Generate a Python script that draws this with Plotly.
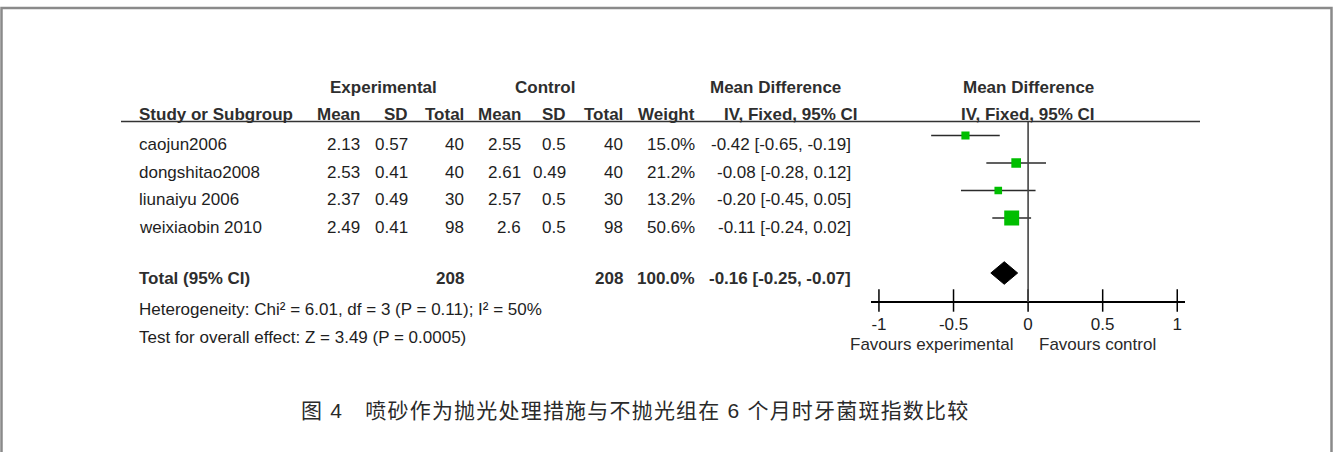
import numpy as np
import plotly.graph_objects as go

# ---- study data -------------------------------------------------------------
studies = ["caojun2006", "dongshitao2008", "liunaiyu 2006", "weixiaobin 2010"]
exp_mean = [2.13, 2.53, 2.37, 2.49]
exp_sd = [0.57, 0.41, 0.49, 0.41]
exp_total = [40, 40, 30, 98]
ctl_mean = [2.55, 2.61, 2.57, 2.6]
ctl_sd = [0.5, 0.49, 0.5, 0.5]
ctl_total = [40, 40, 30, 98]
weight = [15.0, 21.2, 13.2, 50.6]
md = [-0.42, -0.08, -0.20, -0.11]
ci_low = [-0.65, -0.28, -0.45, -0.24]
ci_high = [-0.19, 0.12, 0.05, 0.02]

# pooled estimate
total_label = "Total (95% CI)"
total_exp = 208
total_ctl = 208
total_weight = 100.0
total_md = -0.16
total_low = -0.25
total_high = -0.07

heterogeneity = "Heterogeneity: Chi² = 6.01, df = 3 (P = 0.11); I² = 50%"
overall_test = "Test for overall effect: Z = 3.49 (P = 0.0005)"

group_headers = ["Experimental", "Control", "Mean Difference", "Mean Difference"]
column_headers = ["Study or Subgroup", "Mean", "SD", "Total", "Mean", "SD", "Total",
                  "Weight", "IV, Fixed, 95% CI", "IV, Fixed, 95% CI"]
tick_values = [-1, -0.5, 0, 0.5, 1]
tick_labels = ["-1", "-0.5", "0", "0.5", "1"]
favours = ["Favours experimental", "Favours control"]
caption = "图 4　喷砂作为抛光处理措施与不抛光组在 6 个月时牙菌斑指数比较"

# ---- layout helpers ---------------------------------------------------------
W, H = 1335, 452
ROW0, ROW_H = 135.5, 27.5          # pixel row of the first study and row pitch


def row_of(py):
    """Convert a vertical pixel position into y-axis (row) units."""
    return (py - ROW0) / ROW_H


def xp(px):
    return px / W


FONT = "Liberation Sans, Arial, sans-serif"
TXT = "#1e1e1e"
HDR = "#2e2e2e"

annotations = []


def label(text, x, y, anchor="left", bold=False, size=17, xref="paper", color=None):
    annotations.append(dict(
        text=f"<b>{text}</b>" if bold else text,
        x=x, y=y, xref=xref, yref="y",
        xanchor=anchor, yanchor="middle", showarrow=False,
        font=dict(family=FONT, size=size, color=color or (HDR if bold else TXT)),
    ))


# header rows
y_h1, y_h2 = row_of(87), row_of(114)
label(group_headers[0], xp(383.5), y_h1, "center", True)
label(group_headers[1], xp(545), y_h1, "center", True)
label(group_headers[2], xp(775), y_h1, "center", True)
label(group_headers[3], 0, y_h1, "center", True, xref="x")

col_right = [362, 410, 466, 523, 568, 625, 697]
label(column_headers[0], xp(137), y_h2, "left", True)
for name, xr in zip(column_headers[1:8], col_right):
    label(name, xp(xr), y_h2, "right", True)
label(column_headers[8], xp(791), y_h2, "center", True)
label(column_headers[9], 0, y_h2, "center", True, xref="x")

# study rows
TEXT_DROP = 9 / ROW_H
rows = list(range(len(studies)))
for i, r in enumerate(rows):
    y = r + TEXT_DROP
    cells = [f"{exp_mean[i]:g}", f"{exp_sd[i]:g}", f"{exp_total[i]}",
             f"{ctl_mean[i]:g}", f"{ctl_sd[i]:g}", f"{ctl_total[i]}",
             f"{weight[i]:.1f}%"]
    label(studies[i], xp(137), y)
    for c, xr in zip(cells, col_right):
        label(c, xp(xr), y, "right")
    label(f"{md[i]:.2f} [{ci_low[i]:.2f}, {ci_high[i]:.2f}]", xp(853), y, "right")

# total row
TOTAL_ROW = 5
y_t = row_of(278)
label(total_label, xp(137), y_t, "left", True)
label(str(total_exp), xp(col_right[2]), y_t, "right", True)
label(str(total_ctl), xp(col_right[5]), y_t, "right", True)
label(f"{total_weight:.1f}%", xp(col_right[6]), y_t, "right", True)
label(f"{total_md:.2f} [{total_low:.2f}, {total_high:.2f}]", xp(853), y_t, "right", True)

label(heterogeneity, xp(137), row_of(309.5))
label(overall_test, xp(137), row_of(337))

# favours labels under the axis
label(favours[0], xp(1015), row_of(344), "right", color="#2a2a2a")
label(favours[1], xp(1037), row_of(344), "left", color="#2a2a2a")

# caption
annotations.append(dict(
    text=f'<span style="letter-spacing:1.2px">{caption}</span>',
    x=xp(635), y=row_of(410), xref="paper", yref="y",
    xanchor="center", yanchor="middle", showarrow=False,
    font=dict(family="Liberation Sans, Noto Sans CJK SC, sans-serif", size=21, color="#2a2a2a"),
))

# ---- forest plot ------------------------------------------------------------
AXIS_ROW = row_of(302)
HEADER_ROW = row_of(121.5)

md_a, lo_a, hi_a, w_a = map(np.array, (md, ci_low, ci_high, weight))

fig = go.Figure()

fig.add_trace(go.Scatter(
    x=md_a, y=rows, mode="markers",
    marker=dict(symbol="square", size=2.1 * np.sqrt(w_a), color="#00BE00",
                opacity=1, line=dict(width=0)),
    error_x=dict(type="data", symmetric=False, array=hi_a - md_a, arrayminus=md_a - lo_a,
                 color="#2b2b2b", thickness=1.6, width=0),
    hoverinfo="skip",
))

# pooled diamond
half_h = 0.41
fig.add_trace(go.Scatter(
    x=[total_low, total_md, total_high, total_md, total_low],
    y=[TOTAL_ROW, TOTAL_ROW - half_h, TOTAL_ROW, TOTAL_ROW + half_h, TOTAL_ROW],
    mode="lines", fill="toself", fillcolor="#000000",
    line=dict(color="#000000", width=1), hoverinfo="skip",
))

# tick marks crossing the axis line
fig.add_trace(go.Scatter(
    x=tick_values, y=[row_of(300.5)] * len(tick_values), mode="markers",
    marker=dict(symbol="line-ns", size=16, line=dict(color="#000000", width=1.5)),
    cliponaxis=False, hoverinfo="skip",
))

shapes = [
    # line of no effect
    dict(type="line", xref="x", yref="y", x0=0, x1=0, y0=HEADER_ROW, y1=AXIS_ROW,
         line=dict(color="#444444", width=1.6)),
    # header rule
    dict(type="line", xref="paper", yref="y", x0=xp(121), x1=xp(1200), y0=HEADER_ROW, y1=HEADER_ROW,
         line=dict(color="#333333", width=1.6)),
    # frame around the figure
    dict(type="rect", xref="paper", yref="paper", x0=xp(1.5), x1=xp(1331.5), y0=-0.1, y1=1 - 8 / H,
         line=dict(color="#8a8a8a", width=2.5), fillcolor="rgba(0,0,0,0)"),
]

X_UNIT = 149.15
X_ZERO = 1028.1
X_EXT = 1.055

fig.update_layout(
    width=W, height=H,
    margin=dict(l=0, r=0, t=0, b=0),
    paper_bgcolor="white", plot_bgcolor="white",
    showlegend=False,
    annotations=annotations,
    shapes=shapes,
    xaxis=dict(
        domain=[xp(X_ZERO - X_EXT * X_UNIT), xp(X_ZERO + X_EXT * X_UNIT)],
        range=[-X_EXT, X_EXT],
        anchor="free", position=1 - 302 / H,
        showline=True, linecolor="#000000", linewidth=2,
        tickvals=tick_values, ticktext=tick_labels, ticks="",
        ticklabelstandoff=7,
        tickfont=dict(family=FONT, size=17, color=TXT),
        showgrid=False, zeroline=False, fixedrange=True,
    ),
    yaxis=dict(
        domain=[0, 1], range=[(H - ROW0) / ROW_H, -ROW0 / ROW_H],
        visible=False, showgrid=False, zeroline=False, fixedrange=True,
    ),
)

fig.write_html("out.html")
